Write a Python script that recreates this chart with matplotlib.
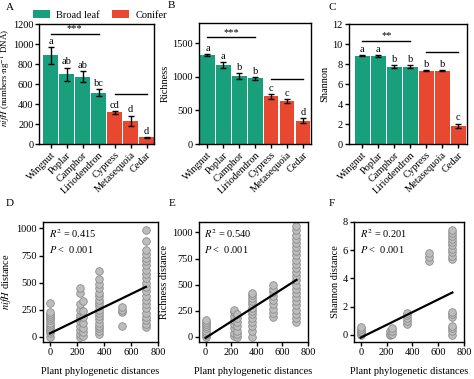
import matplotlib
matplotlib.use("Agg")
import matplotlib.pyplot as plt
from matplotlib.patches import Patch
import numpy as np

plt.rcParams['font.family'] = ['Liberation Serif', 'DejaVu Serif']
plt.rcParams['mathtext.fontset'] = 'stix'
plt.rcParams['font.size'] = 7.5

# ---------------- data ----------------
species = ["Wingnut", "Poplar", "Camphor", "Liriodendron", "Cypress", "Metasequoia", "Cedar"]
groups = ["Broad leaf"] * 4 + ["Conifer"] * 3

nifh_mean = [890, 700, 675, 515, 320, 235, 70]
nifh_err = [85, 65, 55, 35, 15, 50, 5]
nifh_letters = ["a", "ab", "ab", "bc", "cd", "d", "d"]

rich_mean = [1325, 1175, 1005, 975, 710, 640, 345]
rich_err = [10, 45, 45, 25, 40, 25, 35]
rich_letters = ["a", "a", "b", "b", "c", "c", "d"]

shan_mean = [8.85, 8.8, 7.75, 7.75, 7.35, 7.35, 1.85]
shan_err = [0.08, 0.1, 0.15, 0.15, 0.05, 0.05, 0.2]
shan_letters = ["a", "a", "b", "b", "b", "b", "c"]

# significance bars: (x0, x1, y, label)
nifh_sig = [(0, 3, 1105, "***"), (4, 6, 497, "")]
rich_sig = [(0, 3, 1590, "***"), (4, 6, 965, "")]
shan_sig = [(0, 3, 10.33, "**"), (4, 6, 9.17, "")]

# scatter data: phylogenetic distance vs. community distance
d_x = ([0] * 13 + [225] * 11 + [245] * 7 + [360] * 18 + [530] * 4 + [710] * 22)
d_y = ([0, 30, 50, 70, 90, 110, 130, 150, 170, 190, 210, 230, 310] +
       [0, 20, 60, 100, 140, 170, 200, 250, 300, 400, 450] +
       [10, 40, 80, 130, 180, 240, 330] +
       [20, 50, 80, 100, 130, 160, 190, 220, 250, 280, 310, 340, 380, 400, 450, 490, 530, 610] +
       [100, 225, 250, 270] +
       [90, 120, 150, 180, 220, 260, 300, 340, 380, 420, 460, 500, 540, 580, 620, 660, 700, 730, 760, 800, 880, 990])

e_x = ([0] * 9 + [225] * 8 + [245] * 7 + [360] * 13 + [530] * 9 + [710] * 24)
e_y = ([0, 20, 40, 60, 80, 100, 120, 140, 160] +
       [10, 40, 80, 120, 160, 200, 240, 260] +
       [0, 30, 60, 100, 140, 180, 220] +
       [0, 60, 100, 140, 180, 220, 250, 280, 310, 340, 370, 400, 420] +
       [190, 230, 270, 310, 350, 390, 430, 460, 500] +
       [140, 180, 220, 260, 300, 340, 380, 420, 460, 500, 540, 580, 620, 660, 700,
        740, 780, 820, 860, 900, 940, 980, 1020, 1060])

f_x = ([0] * 6 + [225] * 3 + [245] * 3 + [360] * 5 + [530] * 3 + [710] * 17)
f_y = ([0, 0.1, 0.2, 0.3, 0.4, 0.55] +
       [0, 0.1, 0.3] +
       [0.05, 0.3, 0.5] +
       [0.8, 1.0, 1.2, 1.4, 1.55] +
       [5.25, 5.5, 5.8] +
       [0, 0.3, 0.5, 0.6, 1.3, 1.5, 1.6, 5.4, 5.6, 5.9, 6.1, 6.4, 6.6, 6.8, 7.0, 7.2, 7.4])

# regression (intercept, slope) and stats
d_fit = (30, 0.606)
e_fit = (-10, 0.782)
f_fit = (-0.19, 0.0045)
d_r2, e_r2, f_r2 = "0.415", "0.540", "0.201"
fit_range = (0, 710)

# ---------------- styling ----------------
GREEN = "#18a07c"
RED = "#e8482f"
colors = [GREEN if g == "Broad leaf" else RED for g in groups]

W, H = 474, 379
fig = plt.figure(figsize=(W / 100, H / 100), dpi=100)


def ax_px(left, right, top, bottom):
    return fig.add_axes([left / W, 1 - bottom / H, (right - left) / W, (bottom - top) / H])


def style(ax):
    for s in ax.spines.values():
        s.set_linewidth(1.0)
    ax.tick_params(direction='out', length=3, width=1.0, pad=1.5, labelsize=7.5)


def bar_panel(ax, mean, err, letters, sig, ylim, yticks, ylabel, xlim, off, ylfs=7.5, ylpad=2):
    x = np.arange(len(species))
    ax.bar(x, mean, width=0.92, color=colors, edgecolor='none', zorder=2)
    ax.errorbar(x, mean, yerr=err, fmt='none', ecolor='black', elinewidth=1.0,
                capsize=2, capthick=1.0, zorder=3)
    for xi, m, e, l in zip(x, mean, err, letters):
        ax.text(xi, m + e + off, l, ha='center', va='bottom', fontsize=7.5)
    for x0, x1, y, lab in sig:
        ax.plot([x0, x1], [y, y], color='black', lw=1.0)
        if lab:
            ax.text((x0 + x1) / 2, y + off * 0.3, lab, ha='center', va='bottom', fontsize=7.5)
    ax.set_xlim(*xlim)
    ax.set_ylim(*ylim)
    ax.set_yticks(yticks)
    ax.set_xticks(x)
    ax.set_xticklabels(species, rotation=45, ha='right', rotation_mode='anchor')
    ax.set_ylabel(ylabel, fontsize=ylfs, labelpad=ylpad)
    style(ax)


axA = ax_px(39, 154, 24, 144)
bar_panel(axA, nifh_mean, nifh_err, nifh_letters, nifh_sig, (0, 1200),
          np.arange(0, 1201, 200),
          r'$\it{nifH}$ (numbers$\cdot$ng$^{-1}$ DNA)', (-0.73, 6.46), 10, ylfs=6.5, ylpad=1)
axA.tick_params(axis='y', pad=1)
axA.yaxis.set_label_coords(-0.222, 0.55)

axB = ax_px(199, 311, 23, 144)
bar_panel(axB, rich_mean, rich_err, rich_letters, rich_sig, (0, 1800),
          [0, 500, 1000, 1500], "Richness", (-0.53, 6.5), 15)

axC = ax_px(349, 467, 24, 144)
bar_panel(axC, shan_mean, shan_err, shan_letters, shan_sig, (0, 12),
          np.arange(0, 13, 2), "Shannon", (-0.83, 6.55), 0.1)


def scatter_panel(ax, xs, ys, fit, r2, ylim, yticks, ylabel):
    ax.scatter(xs, ys, s=30, facecolor='#bdbdbd', edgecolor='#8c8c8c', linewidth=0.6, zorder=2)
    xx = np.array(fit_range)
    ax.plot(xx, fit[0] + fit[1] * xx, color='black', lw=1.6, zorder=3)
    ax.set_xlim(-52, 800)
    ax.set_ylim(*ylim)
    ax.set_xticks([0, 200, 400, 600, 800])
    ax.set_yticks(yticks)
    ax.set_ylabel(ylabel, fontsize=7.5, labelpad=2)
    ax.set_xlabel("Plant phylogenetic distances", fontsize=7.5, labelpad=7)
    ax.text(0.05, 0.96, r'$R^2$ = ' + r2, transform=ax.transAxes, ha='left', va='top', fontsize=7.5)
    ax.text(0.05, 0.82, r'$P$ <  0.001', transform=ax.transAxes, ha='left', va='top', fontsize=7.5)
    style(ax)


axD = ax_px(43, 158, 222, 342)
scatter_panel(axD, d_x, d_y, d_fit, d_r2, (-50, 1060), [0, 250, 500, 750, 1000],
              r'$\it{nifH}$ distance')
axE = ax_px(199, 308, 222, 342)
scatter_panel(axE, e_x, e_y, e_fit, e_r2, (-50, 1100), [0, 250, 500, 750, 1000],
              "Richness distance")
axF = ax_px(354, 464, 222, 342)
scatter_panel(axF, f_x, f_y, f_fit, f_r2, (-0.5, 8), [0, 2, 4, 6, 8],
              "Shannon distance")

# panel letters
for lab, px, py in [("A", 10, 7), ("B", 171, 5), ("C", 332, 7),
                    ("D", 10, 203), ("E", 172, 203), ("F", 332, 203)]:
    fig.text(px / W, 1 - py / H, lab, ha='center', va='center', fontsize=8)

handles = [Patch(facecolor=GREEN, edgecolor='none', label="Broad leaf"),
           Patch(facecolor=RED, edgecolor='none', label="Conifer")]
fig.legend(handles=handles, loc='center', bbox_to_anchor=(100 / W, 1 - 15 / H), ncol=2,
           frameon=False, fontsize=7.5, handlelength=1.6, handleheight=0.8,
           handletextpad=0.6, columnspacing=1.2, borderpad=0)

fig.savefig("out.png", dpi=100)
